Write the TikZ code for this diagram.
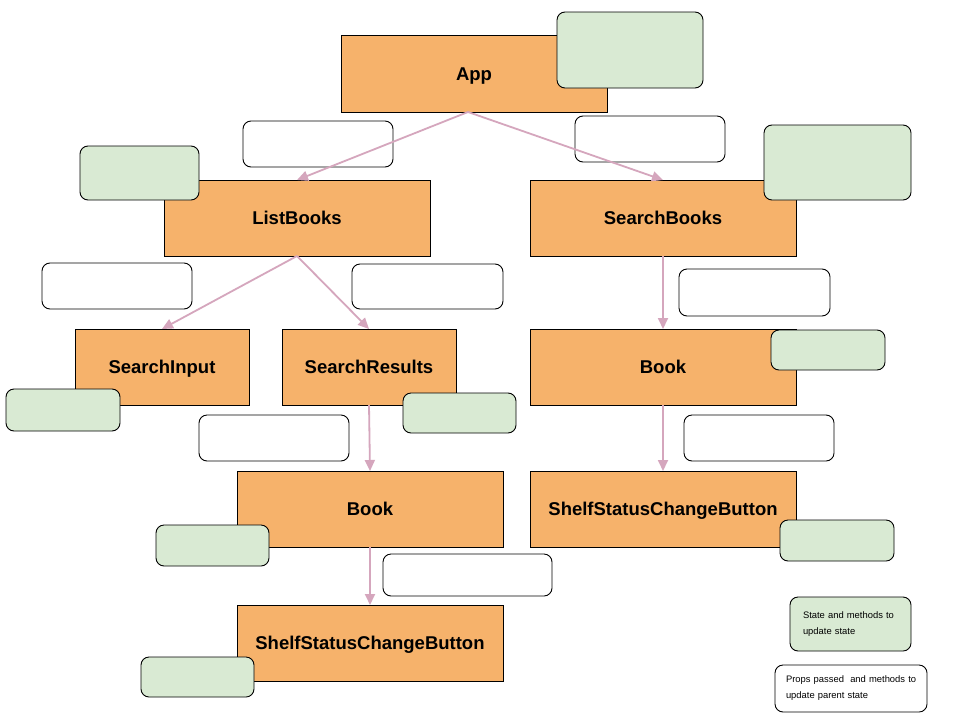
\documentclass[tikz,border=0pt]{standalone}
\usepackage{fontspec}
\setmainfont{Liberation Sans}
\usetikzlibrary{arrows.meta}
\definecolor{compfill}{HTML}{F6B26B}
\definecolor{statefill}{HTML}{D9EAD3}
\definecolor{flowpink}{HTML}{D5A6BD}
\tikzset{
  comp/.style={draw=black, fill=compfill, line width=0.9pt, inner sep=0pt, outer sep=0pt,
    minimum width=266pt, minimum height=76pt, text height=13pt, text depth=0pt,
    font=\fontsize{18.5}{20}\selectfont\bfseries},
  statebox/.style={draw=black, fill=statefill, line width=0.9pt, rounded corners=8pt,
    inner sep=0pt, outer sep=0pt},
  propsbox/.style={draw=black, fill=white, line width=0.9pt, rounded corners=8pt,
    inner sep=0pt, outer sep=0pt},
  flow/.style={draw=flowpink, line width=1.8pt, -{Triangle[width=10pt,length=11pt]}}
}

\begin{document}
\begin{tikzpicture}[x=1pt, y=-1pt]
  \useasboundingbox[fill=white] (0,0) rectangle (960,720);
  % components
  \node[comp, minimum height=77pt] (app) at (474,73.5) {App};
  \node[comp] (listbooks) at (297,218) {ListBooks};
  \node[comp] (searchbooks) at (663,218) {SearchBooks};
  \node[comp, minimum width=174pt] (searchinput) at (162,367) {SearchInput};
  \node[comp, minimum width=174pt] (searchresults) at (369,367) {SearchResults};
  \node[comp] (bookr) at (663,367) {Book};
  \node[comp] (bookm) at (370,509) {Book};
  \node[comp] (shelfr) at (663,509) {ShelfStatusChangeButton};
  \node[comp] (shelfm) at (370,643) {ShelfStatusChangeButton};
  % state boxes
  \node[statebox, minimum width=146pt, minimum height=76pt] (stapp) at (630,50) {};
  \node[statebox, minimum width=119pt, minimum height=54pt] (stlist) at (139.5,173) {};
  \node[statebox, minimum width=147pt, minimum height=75pt] (stsearch) at (837.5,162.5) {};
  \node[statebox, minimum width=114pt, minimum height=42pt] (stinput) at (63,410) {};
  \node[statebox, minimum width=113pt, minimum height=40pt] (stresults) at (459.5,413) {};
  \node[statebox, minimum width=114pt, minimum height=40pt] (stbookr) at (828,350) {};
  \node[statebox, minimum width=113pt, minimum height=41pt] (stbookm) at (212.5,545.5) {};
  \node[statebox, minimum width=114pt, minimum height=41pt] (stshelfr) at (837,540.5) {};
  \node[statebox, minimum width=113pt, minimum height=40pt] (stshelfm) at (197.5,677) {};
  % props boxes
  \node[propsbox, minimum width=150pt, minimum height=46pt] (prlist) at (318,144) {};
  \node[propsbox, minimum width=150pt, minimum height=46pt] (prsearch) at (650,139) {};
  \node[propsbox, minimum width=150pt, minimum height=46pt] (prinput) at (117,286) {};
  \node[propsbox, minimum width=151pt, minimum height=45pt] (prresults) at (427.5,286.5) {};
  \node[propsbox, minimum width=151pt, minimum height=47pt] (prbookr) at (754.5,292.5) {};
  \node[propsbox, minimum width=150pt, minimum height=46pt] (prbookm) at (274,438) {};
  \node[propsbox, minimum width=150pt, minimum height=46pt] (prshelfr) at (759,438) {};
  \node[propsbox, minimum width=169pt, minimum height=42pt] (prshelfm) at (467.5,575) {};
  % legend
  \node[statebox, minimum width=121pt, minimum height=54pt, align=left, anchor=north west,
    text width=95pt, inner xsep=13pt, font=\fontsize{9.4}{16}\selectfont]
    (legstate) at (790,597) {State and methods to\\update state};
  \node[propsbox, minimum width=152pt, minimum height=47pt, align=left, anchor=north west,
    text width=136pt, inner xsep=8pt, font=\fontsize{9.4}{16}\selectfont]
    (legprops) at (775,665) {\hspace{3pt}Props passed\ \ and methods to\\\hspace{3pt}update parent state};
  % data flow
  \draw[flow] ([xshift=-6pt]app.south) -- (listbooks.north);
  \draw[flow] ([xshift=-6pt]app.south) -- (searchbooks.north);
  \draw[flow] (listbooks.south) -- (searchinput.north);
  \draw[flow] (listbooks.south) -- (searchresults.north);
  \draw[flow] (searchbooks.south) -- (bookr.north);
  \draw[flow] (searchresults.south) -- (bookm.north);
  \draw[flow] (bookr.south) -- (shelfr.north);
  \draw[flow] (bookm.south) -- (shelfm.north);
\end{tikzpicture}
\end{document}
